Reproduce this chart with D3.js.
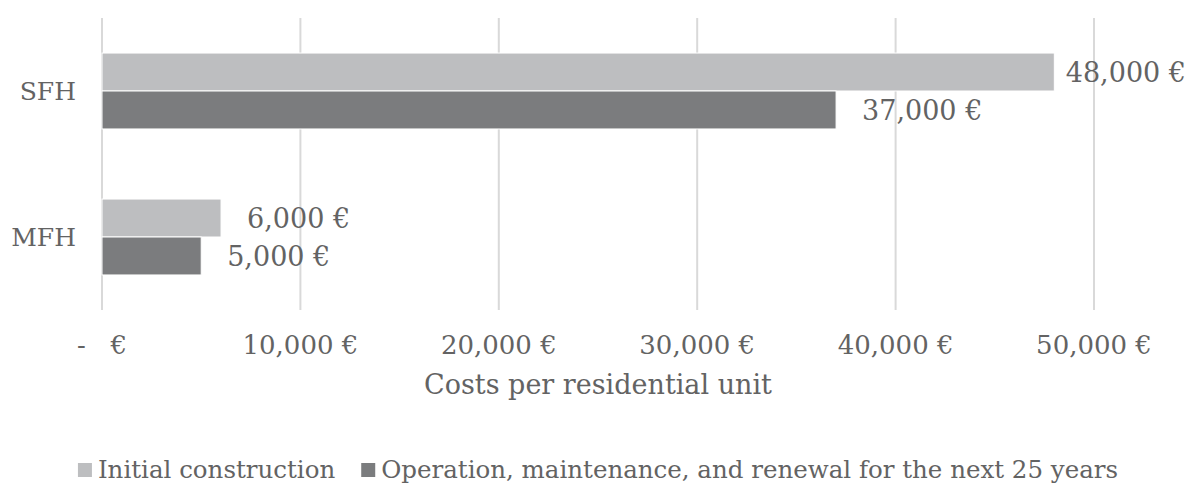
<!DOCTYPE html>
<html>
<head>
<meta charset="utf-8">
<script src="https://cdn.jsdelivr.net/npm/d3@7"></script>
<style>
  body { margin: 0; background: #fff; }
  svg text { font-family: "DejaVu Serif", "Liberation Serif", serif; fill: #636363; }
</style>
</head>
<body>
<svg id="chart" width="1200" height="503"></svg>
<script>
// chart data
const categories = ["SFH", "MFH"];
const seriesNames = ["Initial construction", "Operation, maintenance, and renewal for the next 25 years"];
const initialCosts = [48000, 6000];
const operationCosts = [37000, 5000];
const xTicks = [0, 10000, 20000, 30000, 40000, 50000];
const colors = ["#bdbec0", "#7b7c7e"];

const W = 1200, H = 503;
const svg = d3.select("#chart");

const x = d3.scaleLinear().domain([0, 50000]).range([102, 1094]);
const y = d3.scaleBand().domain(categories).range([18, 310])
    .paddingInner(0.48).paddingOuter(0.24);
const ySub = d3.scaleBand().domain([0, 1]).range([0, y.bandwidth()]);

const fmt = v => v === 0 ? "-\u00a0\u00a0\u00a0€" : d3.format(",")(v) + " €";

// gridlines
svg.append("g").selectAll("line")
    .data(xTicks)
    .enter().append("line")
    .attr("x1", d => x(d)).attr("x2", d => x(d))
    .attr("y1", 18).attr("y2", 310)
    .attr("stroke", "#d9d9d9")
    .attr("stroke-width", 2);

// tick labels
svg.append("g").selectAll("text")
    .data(xTicks)
    .enter().append("text")
    .attr("x", d => x(d))
    .attr("y", 354)
    .attr("text-anchor", "middle")
    .attr("font-size", 26)
    .text(fmt);

const rows = [];
categories.forEach((c, i) => {
    rows.push({cat: c, s: 0, v: initialCosts[i]});
    rows.push({cat: c, s: 1, v: operationCosts[i]});
});

svg.append("g").selectAll("rect")
    .data(rows)
    .enter().append("rect")
    .attr("x", x(0))
    .attr("y", d => y(d.cat) + ySub(d.s))
    .attr("width", d => x(d.v) - x(0))
    .attr("height", ySub.bandwidth())
    .attr("fill", d => colors[d.s])
    .attr("stroke", "#ffffff")
    .attr("stroke-width", 1);

// value labels
svg.append("g").selectAll("text")
    .data(rows)
    .enter().append("text")
    .attr("y", d => y(d.cat) + ySub(d.s) + ySub.bandwidth() / 2 + 1)
    .attr("dy", "0.35em")
    .attr("font-size", 27)
    .text(d => fmt(d.v))
    .attr("x", function(d) {
        const w = this.getComputedTextLength();
        return Math.min(x(d.v) + 26, W - 14 - w);
    });

// category labels
svg.append("g").selectAll("text")
    .data(categories)
    .enter().append("text")
    .attr("x", 76)
    .attr("y", d => y(d) + y.bandwidth() / 2)
    .attr("dy", "0.35em")
    .attr("text-anchor", "end")
    .attr("font-size", 25)
    .text(d => d);

// axis title
svg.append("text")
    .attr("x", (x(0) + x(50000)) / 2)
    .attr("y", 394)
    .attr("text-anchor", "middle")
    .attr("font-size", 27)
    .text("Costs per residential unit");

// legend
const legend = svg.append("g");
const items = legend.selectAll("g")
    .data(seriesNames)
    .enter().append("g");
items.append("rect")
    .attr("width", 14).attr("height", 14)
    .attr("y", 463)
    .attr("fill", (d, i) => colors[i]);
items.append("text")
    .attr("x", 20)
    .attr("y", 478)
    .attr("font-size", 24.5)
    .text(d => d);
let off = 0;
const offsets = [];
items.each(function() {
    offsets.push(off);
    off += 20 + this.querySelector("text").getComputedTextLength() + 26;
});
const total = off - 26;
const startX = 598 - total / 2;
items.attr("transform", (d, i) => `translate(${startX + offsets[i]},0)`);
</script>
</body>
</html>
